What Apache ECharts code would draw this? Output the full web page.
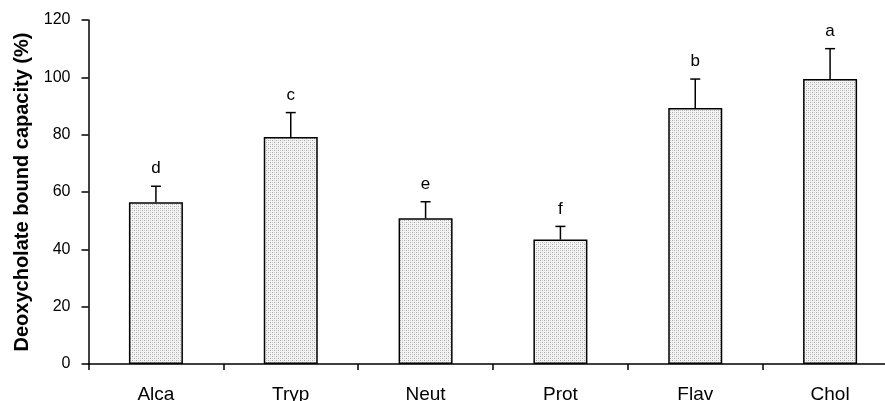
<!DOCTYPE html>
<html>
<head>
<meta charset="utf-8">
<script src="https://cdn.jsdelivr.net/npm/echarts@6/dist/echarts.min.js"></script>
<style>
  html, body { margin: 0; padding: 0; background: #fff; }
  #chart { width: 885px; height: 401px; }
</style>
</head>
<body>
<div id="chart"></div>
<script>
const categories = ['Alca', 'Tryp', 'Neut', 'Prot', 'Flav', 'Chol'];
const means = [56.4, 79.2, 50.8, 43.4, 89.3, 99.4];
const errors = [5.6, 8.5, 5.8, 4.6, 10.1, 10.6];
const letters = ['d', 'c', 'e', 'f', 'b', 'a'];

// stippled fill like the original plot
function makeStipple() {
  const c = document.createElement('canvas');
  c.width = 4; c.height = 4;
  const ctx = c.getContext('2d');
  ctx.fillStyle = '#f4f4f4';
  ctx.fillRect(0, 0, 4, 4);
  ctx.fillStyle = '#a8a8a8';
  ctx.fillRect(0, 0, 1, 1);
  ctx.fillRect(2, 2, 1, 1);
  ctx.fillStyle = '#d0d0d0';
  ctx.fillRect(2, 0, 1, 1);
  ctx.fillRect(0, 2, 1, 1);
  return c;
}

const chart = echarts.init(document.getElementById('chart'));

const font = 'Liberation Sans, Arial, sans-serif';

chart.setOption({
  animation: false,
  // the plot runs past the right edge of the picture, as in the original
  grid: { left: 88.5, top: 20, width: 809, height: 344, outerBoundsMode: 'none', containLabel: false },
  xAxis: {
    type: 'category',
    data: categories,
    axisLine: { lineStyle: { color: '#000', width: 1.5 } },
    axisTick: { show: true, length: 6, lineStyle: { color: '#000', width: 1.5 } },
    axisLabel: { color: '#000', fontFamily: font, fontSize: 19, margin: 21 }
  },
  yAxis: {
    type: 'value',
    min: 0,
    max: 120,
    interval: 20,
    name: 'Deoxycholate bound capacity (%)',
    nameLocation: 'middle',
    nameGap: 56,
    nameTextStyle: { color: '#000', fontFamily: font, fontSize: 20, fontWeight: 'bold' },
    splitLine: { show: false },
    axisLine: { show: true, lineStyle: { color: '#000', width: 1.5 } },
    axisTick: { show: true, length: 7, lineStyle: { color: '#000', width: 1.5 } },
    axisLabel: { color: '#000', fontFamily: font, fontSize: 16, margin: 18 }
  },
  series: [
    {
      type: 'bar',
      data: means,
      barWidth: 54,
      itemStyle: {
        color: { image: makeStipple(), repeat: 'repeat' },
        borderColor: '#000',
        borderWidth: 1.5
      }
    },
    {
      type: 'custom',
      data: means.map((m, i) => [i, m, m + errors[i]]),
      z: 5,
      renderItem: function (params, api) {
        const i = api.value(0);
        const base = api.coord([i, api.value(1)]);
        const top = api.coord([i, api.value(2)]);
        const cap = 5;
        return {
          type: 'group',
          children: [
            { type: 'line', shape: { x1: base[0], y1: base[1], x2: top[0], y2: top[1] },
              style: { stroke: '#000', lineWidth: 1.5 } },
            { type: 'line', shape: { x1: top[0] - cap, y1: top[1], x2: top[0] + cap, y2: top[1] },
              style: { stroke: '#000', lineWidth: 1.5 } },
            { type: 'text', x: top[0], y: top[1] - 9,
              style: { text: letters[params.dataIndex], fill: '#000', font: '17px ' + font,
                       align: 'center', verticalAlign: 'bottom' } }
          ]
        };
      }
    }
  ]
});
</script>
</body>
</html>
